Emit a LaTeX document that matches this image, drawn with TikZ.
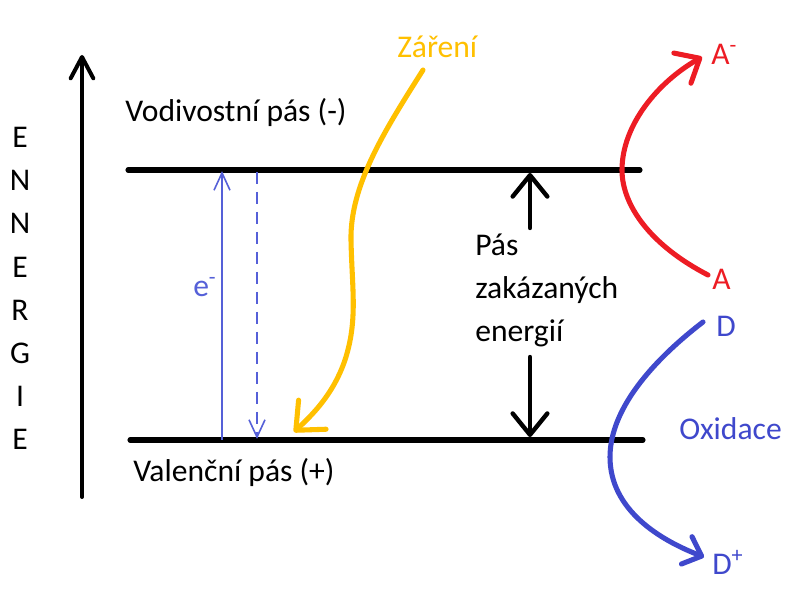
\documentclass[tikz,border=0pt]{standalone}
\usepackage{fontspec}
\setmainfont{Carlito}
\usetikzlibrary{arrows.meta}
\definecolor{sunyellow}{HTML}{FFC000}
\definecolor{redox}{HTML}{ED1C24}
\definecolor{oxblue}{HTML}{3F48CC}
\definecolor{thinblue}{HTML}{5560D8}
\tikzset{
  lbl/.style={inner sep=0pt, anchor=base west, font=\fontsize{23.7}{28}\selectfont},
  band/.style={line width=3.8pt, line cap=round},
  axistip/.style={-{Straight Barb[length=16pt,width=17pt,round]}},
  gaptip/.style={-{Straight Barb[length=16pt,width=26pt,round]}},
  thintip/.style={-{Straight Barb[length=13pt,width=12pt]}},
  suntip/.style={-{Straight Barb[length=17pt,width=30pt,round]}},
  redtip/.style={-{Straight Barb[length=15pt,width=26pt,round]}},
  bluetip/.style={-{Straight Barb[length=12pt,width=22pt,round]}},
}
\begin{document}
\begin{tikzpicture}[x=0.75pt,y=-0.75pt]
\useasboundingbox (0,0) rectangle (811,598);
\fill[white] (0,0) rectangle (811,598);

% energy axis
\coordinate (axb) at (82,497);
\coordinate (axt) at (82,55);
\draw[line width=3pt, line cap=round, axistip] (axb) -- (axt);
\node[inner sep=0pt, anchor=north, align=center, font=\fontsize{23.7}{32.4}\selectfont] (energie) at (20,127)
  {E\\N\\N\\E\\R\\G\\I\\E};

% bands
\coordinate (cb1) at (128,170);
\coordinate (cb2) at (640,170);
\coordinate (vb1) at (130,440);
\coordinate (vb2) at (643,440);
\draw[band] (cb1) -- (cb2);
\draw[band] (vb1) -- (vb2);
\node[lbl] (cbl) at (125,122) {Vodivostní pás (-)};
\node[lbl] (vbl) at (133,482) {Valenční pás (+)};

% electron excitation and return
\coordinate (e1) at (222,440);
\coordinate (e2) at (222,171);
\coordinate (r1) at (257,172);
\coordinate (r2) at (257,439);
\draw[thinblue, line width=1.2pt, thintip] (e1) -- (e2);
\draw[thinblue, line width=1.2pt, dash pattern=on 9pt off 6pt, thintip] (r1) -- (r2);
\node[lbl, text=thinblue] (el) at (193,297) {e\textsuperscript{-}};

% radiation
\node[lbl, text=sunyellow] (zar) at (397,58) {Záření};
\coordinate (z0) at (423,70);
\coordinate (z1) at (294,432);
\draw[sunyellow, line width=3.8pt, line cap=round, suntip]
  (z0) .. controls (385,130) and (350,185) .. (351,240)
       .. controls (352,290) and (358,320) .. (345,360)
       .. controls (333,395) and (312,415) .. (z1);

% band gap
\coordinate (g1) at (530,228);
\coordinate (g2) at (530,173);
\coordinate (g3) at (530,357);
\coordinate (g4) at (530,437);
\draw[line width=3.3pt, line cap=round, gaptip] (g1) -- (g2);
\draw[line width=3.3pt, line cap=round, gaptip] (g3) -- (g4);
\node[lbl] (gap1) at (475,256) {Pás};
\node[lbl] (gap2) at (475,299) {zakázaných};
\node[lbl] (gap3) at (475,342) {energií};

% reduction
\node[lbl, text=redox] (am) at (711,65) {A\textsuperscript{-}};
\node[lbl, text=redox] (a) at (712,290) {A};
\coordinate (ra) at (708,275);
\coordinate (rb) at (702,57);
\draw[redox, line width=3.8pt, line cap=round, redtip]
  (ra) .. controls (650,245) and (622,205) .. (622,170)
       .. controls (622,125) and (658,82) .. (rb);

% oxidation
\node[lbl, text=oxblue] (d) at (716,337) {D};
\node[lbl, text=oxblue] (ox) at (679,440) {Oxidace};
\node[lbl, text=oxblue] (dp) at (712,575) {D\textsuperscript{+}};
\coordinate (ba) at (703,322);
\coordinate (bb) at (704,557);
\draw[oxblue, line width=3.8pt, line cap=round, bluetip]
  (ba) .. controls (660,355) and (610,405) .. (610,457)
       .. controls (610,510) and (660,540) .. (bb);
\end{tikzpicture}
\end{document}
